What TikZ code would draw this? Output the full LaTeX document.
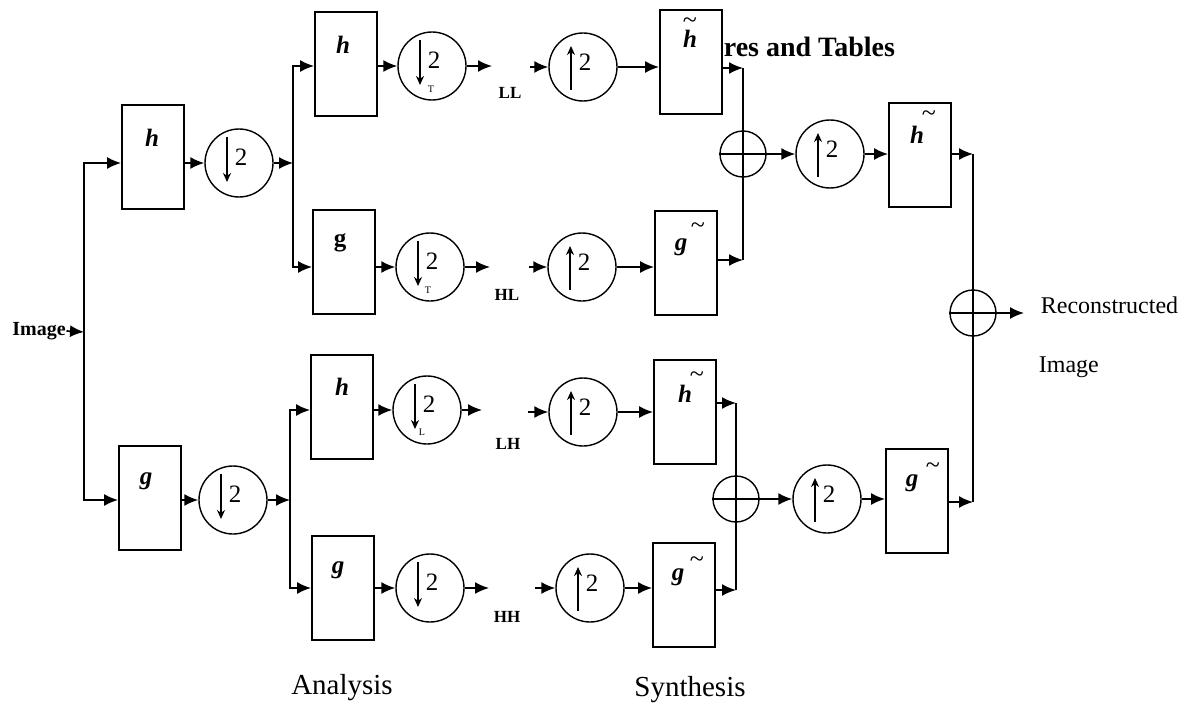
\documentclass[tikz,border=0pt]{standalone}
\usepackage{fontspec}
\setmainfont{Liberation Serif}
\usetikzlibrary{arrows.meta,calc}
\newcommand\DownTwo[1]{%
  \draw[inarr] ($(#1)+(-12,-26)$) -- ($(#1)+(-12,19)$);
  \node[twofont] at ($(#1)+(2,-6)$) {2};}
\newcommand\UpTwo[1]{%
  \draw[inarr] ($(#1)+(-12,23)$) -- ($(#1)+(-12,-21)$);
  \node[twofont] at ($(#1)+(2,-5)$) {2};}
\newcommand\SumCross[1]{%
  \draw[line width=1.2pt] (#1.north) -- (#1.south) (#1.west) -- (#1.east);}
\begin{document}
\begin{tikzpicture}[x=1pt,y=-1pt,line width=1.7pt,
  arr/.style={-{Latex[length=14pt,width=12pt]}},
  inarr/.style={line width=1.6pt,-{Stealth[length=9pt,width=8pt]}},
  blk/.style={draw,line width=1.8pt,minimum width=62pt,minimum height=104pt,inner sep=0pt},
  rcirc/.style={draw,circle,line width=1.4pt,minimum size=68pt,inner sep=0pt},
  scirc/.style={draw,circle,line width=1.4pt,minimum size=46pt,inner sep=0pt},
  twofont/.style={font=\fontsize{25}{25}\selectfont,inner sep=0pt},
  letter/.style={font=\fontsize{25}{25}\selectfont\bfseries\itshape,inner sep=0pt},
  uletter/.style={font=\fontsize{25}{25}\selectfont\bfseries,inner sep=0pt},
  tildefont/.style={font=\fontsize{26}{26}\selectfont,inner sep=0pt},
  band/.style={font=\fontsize{17}{17}\selectfont\bfseries,inner sep=0pt},
  tmark/.style={font=\fontsize{10}{10}\selectfont,inner sep=0pt},
  capt/.style={font=\fontsize{29}{29}\selectfont,inner sep=0pt},
  rcapt/.style={font=\fontsize{24}{24}\selectfont,inner sep=0pt,anchor=west}]
\useasboundingbox (0,0) rectangle (1196,706);

% ---- header fragment
\node[font=\fontsize{28}{28}\selectfont\bfseries,inner sep=0pt,anchor=west] (hdr) at (723,47) {res and Tables};

% ---- input
\node[font=\fontsize{20}{20}\selectfont\bfseries,inner sep=0pt] (imgL) at (39,331) {Image};
\coordinate (sp0) at (84,332);

% ---- level 1
\node[blk] (h1) at (153,157) {};
\node[letter] (h1t) at ($(h1.north)+(-1,34)$) {h};
\node[rcirc] (d1) at (239,163) {};
\node[blk] (g1) at (150,498) {};
\node[letter] (g1t) at ($(g1.north)+(-4,36)$) {g};
\node[rcirc] (d2) at (233,500) {};
\coordinate (sp1) at (293,163);
\coordinate (sp2) at (290,500);

% ---- level 2 analysis
\node[blk] (hLL) at (346,64) {};
\node[letter] (hLLt) at ($(hLL.north)+(-3,34)$) {h};
\node[rcirc] (dLL) at (432,66) {};
\node[blk] (gHL) at (344,262) {};
\node[uletter] (gHLt) at ($(gHL.north)+(-4,34)$) {g};
\node[rcirc] (dHL) at (430,267) {};
\node[blk] (hLH) at (342,407) {};
\node[letter] (hLHt) at ($(hLH.north)+(0,33)$) {h};
\node[rcirc] (dLH) at (427,410) {};
\node[blk] (gHH) at (343,588) {};
\node[letter] (gHHt) at ($(gHH.north)+(-5,35)$) {g};
\node[rcirc] (dHH) at (430,588) {};

% ---- band labels
\node[band] (LL) at (510,93) {LL};
\node[band] (HL) at (507,295) {HL};
\node[band] (LH) at (508,444) {LH};
\node[band] (HH) at (507,617) {HH};

% ---- synthesis level 2
\node[rcirc] (uLL) at (583,67) {};
\node[blk] (htLL) at (691,62) {};
\node[letter,align=center,anchor=south] (htLLt) at (690,48)
  {{\fontsize{26}{26}\selectfont\mdseries\upshape\textasciitilde}\\[-6pt]h};
\node[rcirc] (uHL) at (582,267) {};
\node[blk] (gtHL) at (686,263) {};
\node[letter] (gtHLt) at (681,247) {g};
\node[tildefont] (gtHLs) at (698,228) {\textasciitilde};
\node[rcirc] (uLH) at (583,412) {};
\node[blk] (htLH) at (685,412) {};
\node[letter] (htLHt) at (685,394) {h};
\node[tildefont] (htLHs) at (697,377) {\textasciitilde};
\node[rcirc] (uHH) at (590,588) {};
\node[blk] (gtHH) at (684,595) {};
\node[letter] (gtHHt) at (678,577) {g};
\node[tildefont] (gtHHs) at (697,562) {\textasciitilde};

\node[scirc] (s1) at (743,154) {};
\node[scirc] (s2) at (736,499) {};

% ---- synthesis level 1
\node[rcirc] (u1) at (830,154) {};
\node[blk] (ht1) at (920,155) {};
\node[letter] (ht1t) at (917,135) {h};
\node[tildefont] (ht1s) at (929,116) {\textasciitilde};
\node[rcirc] (u2) at (827,499) {};
\node[blk] (gt2) at (917,501) {};
\node[letter] (gt2t) at (912,483) {g};
\node[tildefont] (gt2s) at (933,468) {\textasciitilde};
\node[scirc] (s3) at (973,313) {};

% ---- captions
\node[capt] (ana) at (342,688) {Analysis};
\node[capt] (syn) at (690,690) {Synthesis};
\node[rcapt] (rec) at (1040,305) {Reconstructed};
\node[rcapt] (rimg) at (1038,367) {Image};

% ---- circle symbols
\DownTwo{d1}\DownTwo{d2}\DownTwo{dLL}\DownTwo{dHL}\DownTwo{dLH}\DownTwo{dHH}
\UpTwo{uLL}\UpTwo{uHL}\UpTwo{uLH}\UpTwo{uHH}\UpTwo{u1}\UpTwo{u2}
\node[tmark] (mLL) at ($(dLL)+(-1,23)$) {T};
\node[tmark] (mHL) at ($(dHL)+(-2,23)$) {T};
\node[tmark] (mLH) at ($(dLH)+(-5,22)$) {L};

% ---- connectors: input split
\draw[arr] (imgL.east) -- (sp0);
\draw[arr] (sp0) |- (h1.west |- d1.center);
\draw[arr] (sp0) |- (g1.west |- d2.center);

% level 1
\draw[arr] (h1.east |- d1.center) -- (d1);
\draw[arr] (d1) -- (sp1);
\draw[arr] (sp1) |- (hLL.west |- dLL.center);
\draw[arr] (sp1) |- (gHL.west |- dHL.center);
\draw[arr] (g1.east |- d2.center) -- (d2);
\draw[arr] (d2) -- (sp2);
\draw[arr] (sp2) |- (hLH.west |- dLH.center);
\draw[arr] (sp2) |- (gHH.west |- dHH.center);

% level 2 analysis -> band -> synthesis
\coordinate (eLL) at (492,66);  \coordinate (fLL) at (530,67);
\coordinate (eHL) at (490,267); \coordinate (fHL) at (529,267);
\coordinate (eLH) at (482,410); \coordinate (fLH) at (528,412);
\coordinate (eHH) at (489,588); \coordinate (fHH) at (535,588);
\foreach \a/\d/\e/\f/\u/\b in {hLL/dLL/eLL/fLL/uLL/htLL, gHL/dHL/eHL/fHL/uHL/gtHL, hLH/dLH/eLH/fLH/uLH/htLH, gHH/dHH/eHH/fHH/uHH/gtHH}{
  \draw[arr] (\a.east |- \d.center) -- (\d);
  \draw[arr] (\d) -- (\e);
  \draw[arr] (\f) -- (\u);
  \draw[arr] (\u) -- (\b.west |- \u.center);
}

% to sums
\coordinate (oLL) at (743,68);
\coordinate (oHL) at (743,260);
\coordinate (oLH) at (736,403);
\coordinate (oHH) at (736,590);
\draw[arr] (htLL.east |- oLL) -- (oLL);
\draw (oLL) -- (s1.north);
\draw[arr] (gtHL.east |- oHL) -- (oHL);
\draw (oHL) -- (s1.south);
\draw[arr] (htLH.east |- oLH) -- (oLH);
\draw (oLH) -- (s2.north);
\draw[arr] (gtHH.east |- oHH) -- (oHH);
\draw (oHH) -- (s2.south);
\SumCross{s1}\SumCross{s2}

\draw[arr] (s1.east) -- (u1.west);
\draw[arr] (u1) -- (ht1.west |- u1.center);
\draw[arr] (s2.east) -- (u2.west);
\draw[arr] (u2) -- (gt2.west |- u2.center);

\coordinate (o1) at (973,154);
\coordinate (o2) at (973,502);
\draw[arr] (ht1.east |- o1) -- (o1);
\draw (o1) -- (s3.north);
\draw[arr] (gt2.east |- o2) -- (o2);
\draw (o2) -- (s3.south);
\SumCross{s3}
\coordinate (rOut) at (1024,313);
\draw[arr] (s3.east) -- (rOut);
\end{tikzpicture}
\end{document}
